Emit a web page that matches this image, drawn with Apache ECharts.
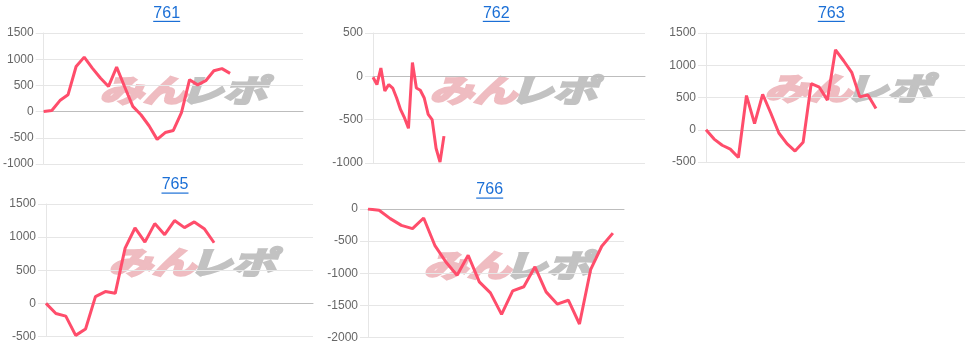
<!DOCTYPE html>
<html>
<head>
<meta charset="utf-8">
<script src="https://cdn.jsdelivr.net/npm/echarts@6/dist/echarts.min.js"></script>
<style>
html,body{margin:0;padding:0;background:#fff;}
#c{width:974px;height:348px;}
</style>
</head>
<body>
<div id="c"></div>
<script>
// chart names
const names = ['761', '762', '763', '765', '766'];
// number of x slots per chart
const slotCounts = [33, 70, 33, 28, 24];
// series values
const d761 = [0, 20, 210, 320, 860, 1040, 830, 640, 480, 850, 470, 100, -60, -270, -530, -400, -360, -20, 610, 510, 590, 780, 820, 730];
const d762 = [-10, -95, 95, -170, -95, -135, -250, -385, -480, -600, 160, -135, -160, -250, -440, -500, -830, -990, -690];
const d763 = [0, -145, -240, -300, -430, 530, 95, 550, 260, -50, -215, -330, -195, 715, 660, 460, 1240, 1070, 890, 510, 540, 330];
const d765 = [0, -152, -193, -483, -386, 102, 178, 152, 833, 1138, 925, 1204, 1037, 1250, 1143, 1230, 1128, 915];
const d766 = [0, -20, -150, -255, -305, -140, -565, -825, -1030, -720, -1135, -1305, -1640, -1275, -1210, -900, -1290, -1480, -1420, -1790, -945, -580, -375];
// y ranges [min, max]
const yMins = [-1000, -1000, -500, -500, -2000];
const yMaxs = [1500, 500, 1500, 1500, 0];
const yInterval = 500;

const seriesData = [d761, d762, d763, d765, d766];

// layout
const grids = [
  {left: 43, top: 33, width: 260, height: 131},
  {left: 373, top: 33, width: 272, height: 130},
  {left: 706, top: 33, width: 259, height: 129},
  {left: 46, top: 204, width: 267, height: 132.5},
  {left: 368, top: 209, width: 256, height: 128.5}
];
const titlePos = [[166.7, 13.3], [496.3, 13.3], [831.3, 13.3], [175, 185], [489.7, 190]];
const logoPos = [[183, 90], [513, 90], [848, 88], [192, 262], [507, 265]];

const gridColor = '#e6e6e6';
const zeroColor = '#bdbdbd';
const lineColor = '#ff4d6b';
const titleColor = '#1b6fd6';
const pinkLogo = '#efbcc1';
const greyLogo = '#c2c2c2';

const xAxes = [], yAxes = [], series = [], graphics = [];
names.forEach((nm, i) => {
  const cats = [];
  for (let k = 1; k <= slotCounts[i]; k++) cats.push(String(k));
  xAxes.push({
    type: 'category', gridIndex: i, data: cats, boundaryGap: false,
    axisLabel: {show: false}, axisTick: {show: false},
    axisLine: {show: true, onZero: true, lineStyle: {color: zeroColor, width: 1}},
    splitLine: {show: false}, z: 3
  });
  yAxes.push({
    type: 'value', gridIndex: i, min: yMins[i], max: yMaxs[i], interval: yInterval,
    axisLine: {show: true, lineStyle: {color: gridColor}},
    axisTick: {show: true, length: 8, lineStyle: {color: gridColor}},
    axisLabel: {color: '#666', fontSize: 12, fontFamily: 'Liberation Sans, Arial, sans-serif', margin: 10,
      formatter: v => String(v)},
    splitLine: {show: true, lineStyle: {color: gridColor, width: 1}}
  });
  series.push({
    type: 'line', xAxisIndex: i, yAxisIndex: i, data: seriesData[i],
    symbol: 'none', smooth: false, z: 5,
    lineStyle: {color: lineColor, width: 3}
  });
  const [tx, ty] = titlePos[i];
  graphics.push({
    type: 'text', x: tx, y: ty, z: 10,
    style: {text: nm, font: '16px "Liberation Sans", Arial, sans-serif', fill: titleColor, align: 'center', verticalAlign: 'middle'}
  });
  graphics.push({
    type: 'rect', z: 10,
    shape: {x: tx - 13.5, y: ty + 7.5, width: 27, height: 1.2},
    style: {fill: titleColor}
  });
  const [lx, ly] = logoPos[i];
  graphics.push({
    type: 'group', x: lx, y: ly, z: 1,
    children: [
      {type: 'text', x: -40, y: 0, scaleX: 1.15, scaleY: 0.82,
       style: {text: 'みん', font: 'italic bold 38px "Noto Sans CJK JP", sans-serif', fill: pinkLogo,
         stroke: pinkLogo, lineWidth: 3, align: 'center', verticalAlign: 'middle'}},
      {type: 'text', x: 40, y: 0, scaleX: 1.15, scaleY: 0.82,
       style: {text: 'レポ', font: 'italic bold 38px "Noto Sans CJK JP", sans-serif', fill: greyLogo,
         stroke: greyLogo, lineWidth: 3, align: 'center', verticalAlign: 'middle'}}
    ]
  });
});

const chart = echarts.init(document.getElementById('c'));
chart.setOption({
  animation: false,
  backgroundColor: '#fff',
  grid: grids,
  xAxis: xAxes,
  yAxis: yAxes,
  series: series,
  graphic: graphics
});
</script>
</body>
</html>
